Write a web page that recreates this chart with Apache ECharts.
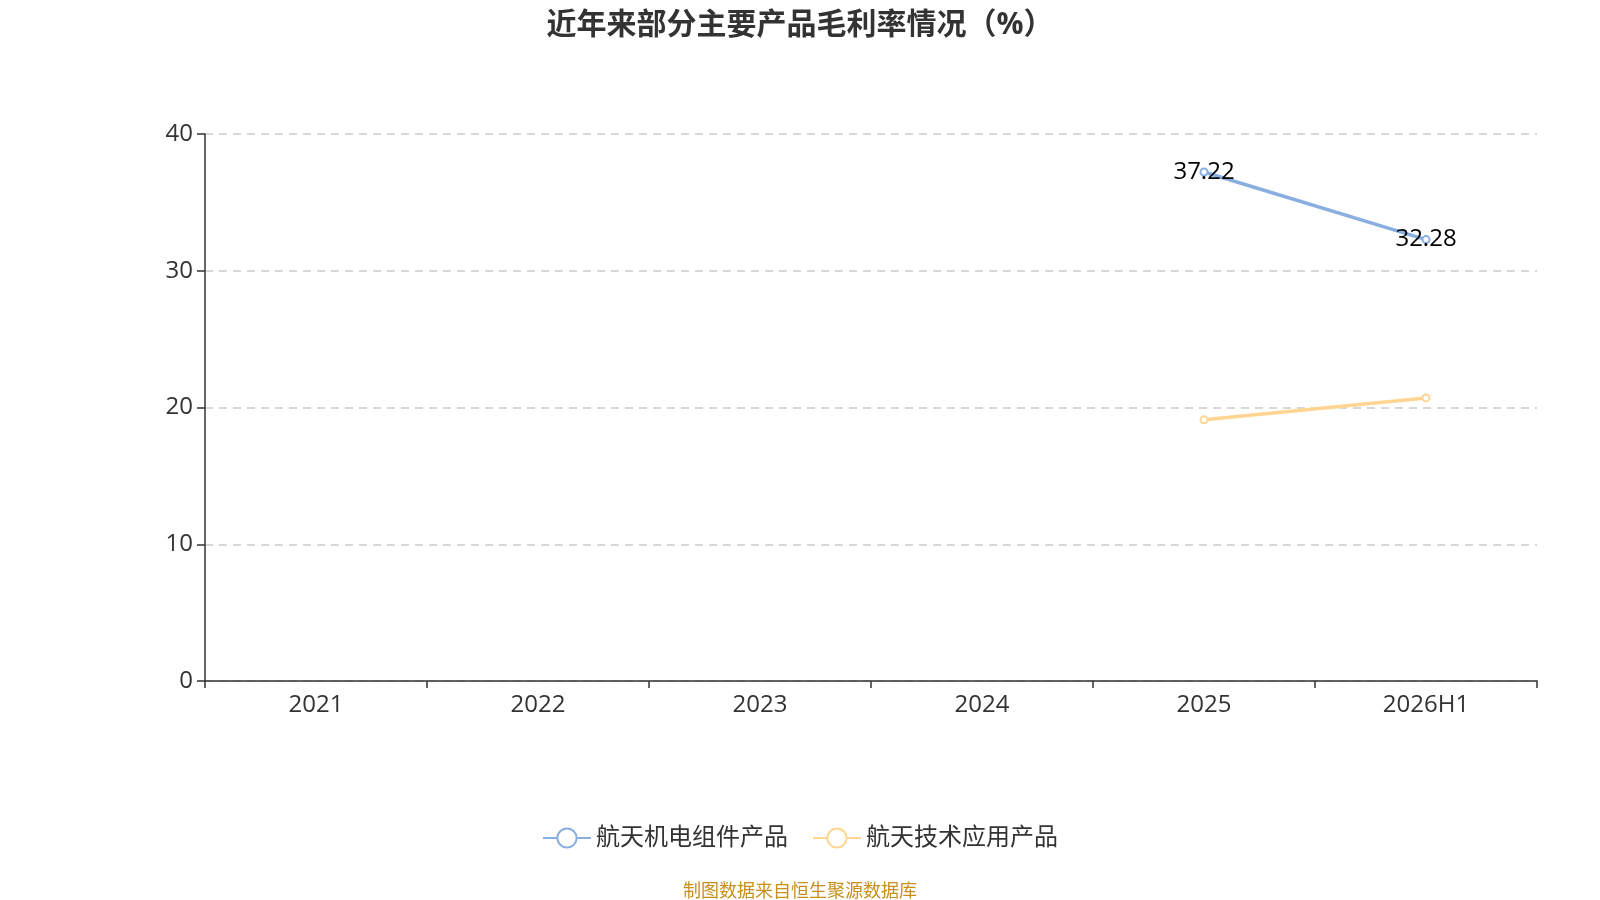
<!DOCTYPE html>
<html>
<head>
<meta charset="utf-8">
<script src="https://cdn.jsdelivr.net/npm/echarts@6/dist/echarts.min.js"></script>
<style>html,body{margin:0;padding:0;background:#fff}#c{width:1600px;height:900px}</style>
</head>
<body>
<div id="c"></div>
<script>
const categories = ['2021', '2022', '2023', '2024', '2025', '2026H1'];
const seriesNames = ['航天机电组件产品', '航天技术应用产品'];
const seriesA = [null, null, null, null, 37.22, 32.28];
const seriesB = [null, null, null, null, 19.1, 20.7];
const colors = ['#8aaee0', '#ffd591'];

const chart = echarts.init(document.getElementById('c'));
const font = '"Open Sans", "Noto Sans CJK SC", sans-serif';
chart.setOption({
  textStyle: { fontFamily: font },
  title: {
    text: '近年来部分主要产品毛利率情况（%）',
    left: 'center', top: 5,
    textStyle: { fontSize: 30, fontWeight: 'bold', color: '#333', fontFamily: font }
  },
  grid: { left: 205, right: 63, top: 134, bottom: 219 },
  legend: {
    top: 821, left: 'center',
    itemWidth: 48, itemHeight: 24, itemGap: 24,
    textStyle: { fontSize: 24, color: '#333', fontFamily: font },
    data: seriesNames
  },
  graphic: [{
    type: 'text', left: 'center', top: 883,
    style: { text: '制图数据来自恒生聚源数据库', fill: '#c8901a', fontSize: 18, fontFamily: font }
  }],
  xAxis: {
    type: 'category', data: categories, boundaryGap: true,
    axisLine: { lineStyle: { color: '#333', width: 1.5 } },
    axisTick: { show: true, length: 7, lineStyle: { color: '#333', width: 1.5 } },
    axisLabel: { fontSize: 24, color: '#333', margin: 12, fontFamily: font }
  },
  yAxis: {
    type: 'value', min: 0, max: 40, interval: 10,
    axisLine: { show: true, lineStyle: { color: '#333', width: 1.5 } },
    axisTick: { show: true, length: 8, lineStyle: { color: '#333', width: 1.5 } },
    axisLabel: { fontSize: 24, color: '#333', margin: 12, fontFamily: font },
    splitLine: { lineStyle: { type: [8, 6], color: '#ccc', width: 1.5 } }
  },
  series: [
    {
      name: seriesNames[0], type: 'line', data: seriesA,
      symbol: 'emptyCircle', symbolSize: 7,
      lineStyle: { width: 3.5, color: colors[0] },
      itemStyle: { color: colors[0] },
      label: { show: true, position: 'inside', fontSize: 24, color: '#000', fontFamily: font }
    },
    {
      name: seriesNames[1], type: 'line', data: seriesB,
      symbol: 'emptyCircle', symbolSize: 7,
      lineStyle: { width: 3.5, color: colors[1] },
      itemStyle: { color: colors[1] },
      label: { show: false }
    }
  ]
});
</script>
</body>
</html>
